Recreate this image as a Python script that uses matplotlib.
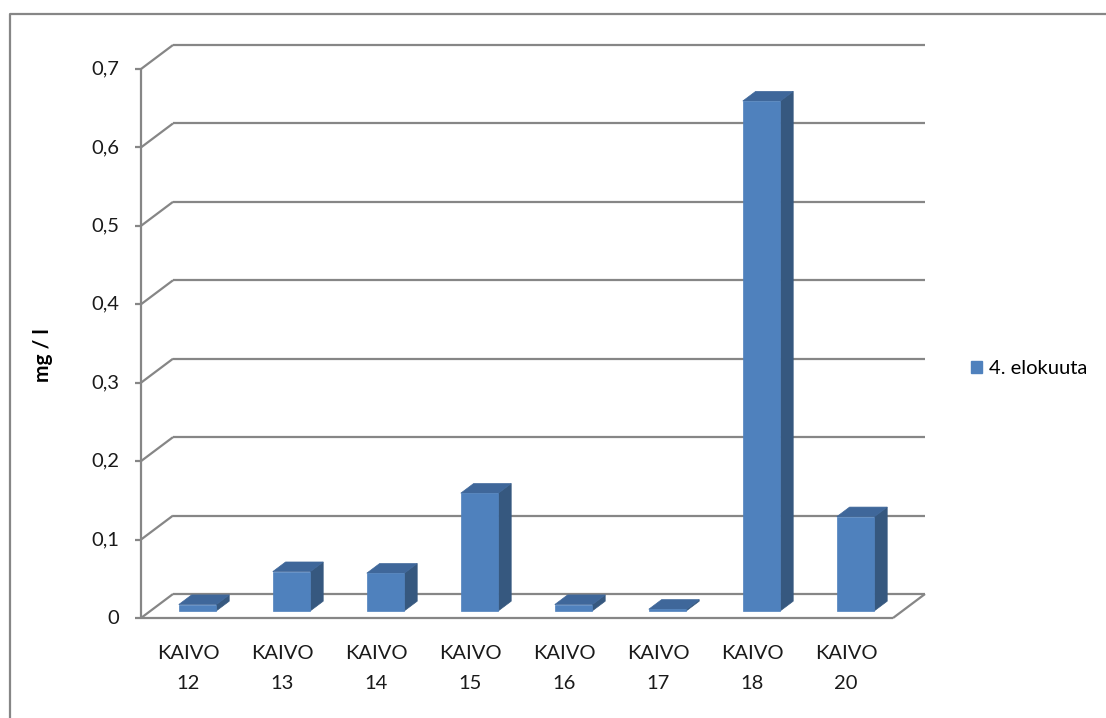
import matplotlib
matplotlib.use("Agg")
import matplotlib.pyplot as plt
from matplotlib.patches import Polygon, Patch
from matplotlib.lines import Line2D

# Data
categories = ["KAIVO\n12", "KAIVO\n13", "KAIVO\n14", "KAIVO\n15",
              "KAIVO\n16", "KAIVO\n17", "KAIVO\n18", "KAIVO\n20"]
values = [0.008, 0.05, 0.048, 0.15, 0.008, 0.002, 0.65, 0.12]
yticks = [0.0, 0.1, 0.2, 0.3, 0.4, 0.5, 0.6, 0.7]
ytick_labels = ["0", "0,1", "0,2", "0,3", "0,4", "0,5", "0,6", "0,7"]
series_name = "4. elokuuta"
ylabel = "mg / l"

# Style
FONT = ["Lato", "DejaVu Sans"]
plt.rcParams["font.family"] = FONT
GRID = "#868686"
FRONT = "#4F81BD"
TOP = "#3F679A"
SIDE = "#36587F"
FS = 14.5
DPI = 100
W, H = 1106, 718

fig = plt.figure(figsize=(W / DPI, H / DPI), dpi=DPI)
ax = fig.add_axes([141 / W, 100 / H, 752 / W, 549 / H])
n = len(categories)
ax.set_xlim(0, n)
ax.set_ylim(0, 0.7)
ax.axis("off")

# Depth of the 3-D box, in pixels, converted to data units
DEPTH_PX_X, DEPTH_PX_Y = 32, 24
px_x = n / ax.bbox.width
px_y = 0.7 / ax.bbox.height
DX = DEPTH_PX_X * px_x
DY = DEPTH_PX_Y * px_y


def p(x, y, d):
    return (x + d * DX, y + d * DY)


def seg(a, b, **kw):
    ax.plot([a[0], b[0]], [a[1], b[1]], color=GRID, lw=1.6,
            solid_capstyle="butt", clip_on=False, **kw)


# Back wall gridlines and left side wall diagonals
for v in yticks:
    seg(p(0, v, 1), p(n, v, 1), zorder=1)
    seg(p(0, v, 0), p(0, v, 1), zorder=1)
# Floor
seg(p(0, 0, 0), p(n, 0, 0), zorder=1)
seg(p(n, 0, 0), p(n, 0, 1), zorder=1)
# Front value axis with ticks
seg(p(0, 0, 0), p(0, 0.7, 0), zorder=5)
for v, lab in zip(yticks, ytick_labels):
    seg((-6 * px_x, v), (0, v), zorder=5)
    ax.text(-22 * px_x, v, lab, ha="right", va="center", fontsize=FS,
            color="#1a1a1a")

# Bars
BW = 0.4
D0, D1 = 0.3, 0.7
for i, v in enumerate(values):
    xl = i + 0.5 - BW / 2
    xr = i + 0.5 + BW / 2
    side = [p(xr, 0, D0), p(xr, 0, D1), p(xr, v, D1), p(xr, v, D0)]
    top = [p(xl, v, D0), p(xr, v, D0), p(xr, v, D1), p(xl, v, D1)]
    front = [p(xl, 0, D0), p(xr, 0, D0), p(xr, v, D0), p(xl, v, D0)]
    for pts, c in ((side, SIDE), (top, TOP), (front, FRONT)):
        ax.add_patch(Polygon(pts, closed=True, facecolor=c, edgecolor=c,
                             lw=0.5, zorder=3, clip_on=False))

# Category labels
for i, lab in enumerate(categories):
    ax.annotate(lab, (i + 0.5, 0), xytext=(0, -27), textcoords="offset pixels",
                ha="center", va="top", fontsize=FS, color="#1a1a1a",
                linespacing=1.95)

# Axis title
fig.text(43 / W, 1 - 355 / H, ylabel, rotation=90, ha="center", va="center",
         fontsize=FS + 0.5, fontweight="bold", color="#000000")

# Legend
fig.legend(handles=[Patch(facecolor=FRONT, edgecolor=FRONT)],
           labels=[series_name], loc="center left",
           bbox_to_anchor=(971 / W, 1 - 369 / H), frameon=False,
           fontsize=FS, handlelength=0.55, handleheight=0.55,
           handletextpad=0.35, borderpad=0, borderaxespad=0)

# Chart area border (top and left edges)
fig.add_artist(Line2D([9.5 / W, 9.5 / W, 1.0], [0.0, 1 - 13.5 / H, 1 - 13.5 / H],
                      transform=fig.transFigure, color=GRID, lw=1.6))

fig.savefig("out.png", dpi=DPI)
